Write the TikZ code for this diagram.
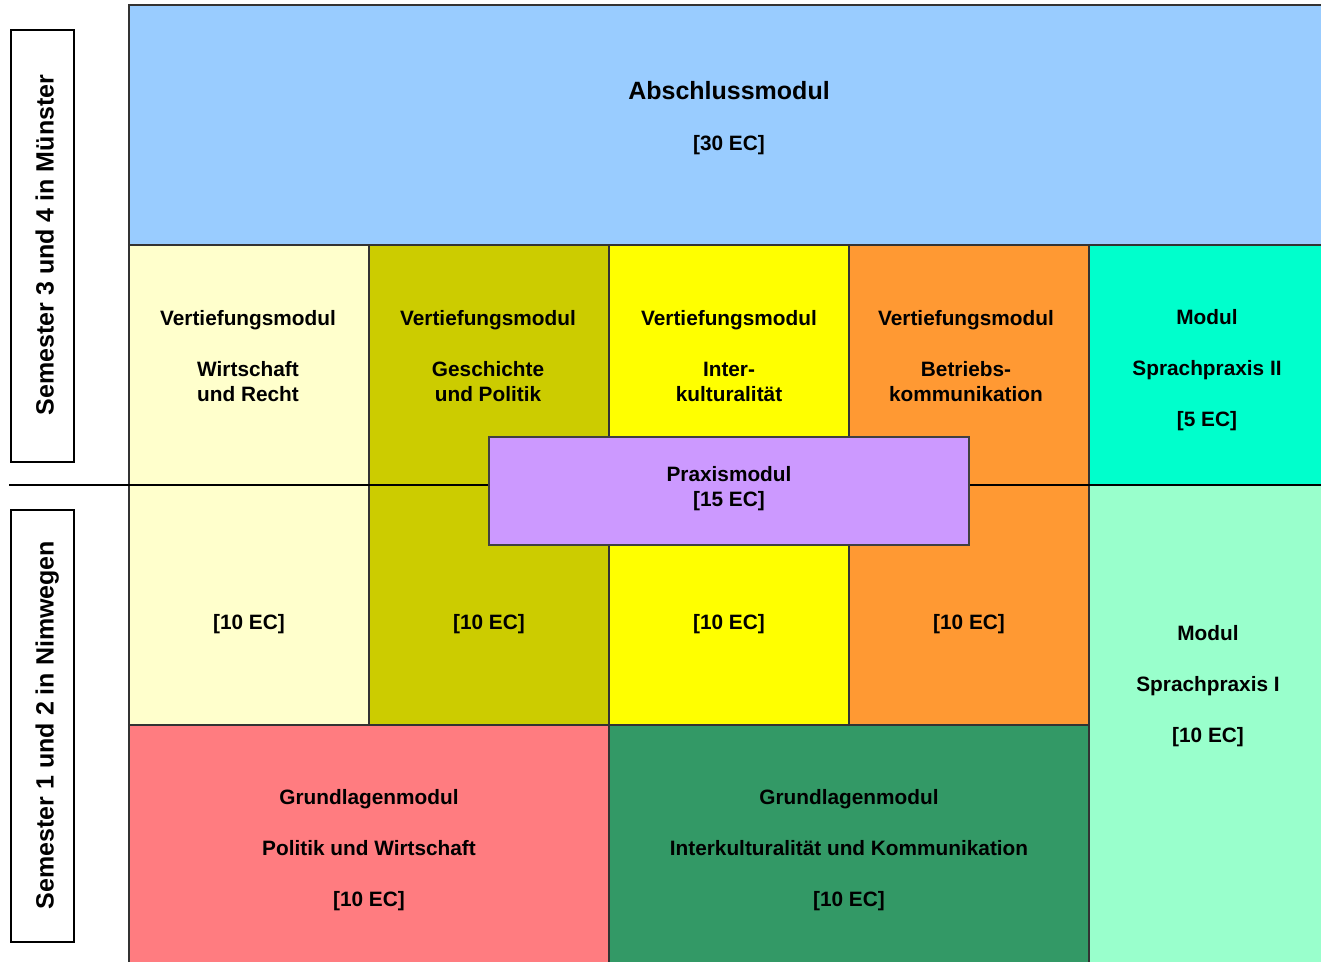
\documentclass[tikz,border=0pt]{standalone}
\usepackage{fontspec}
\setmainfont{Liberation Sans}
\definecolor{cBlue}{HTML}{99CCFF}
\definecolor{cPale}{HTML}{FFFFCC}
\definecolor{cOlive}{HTML}{CCCC00}
\definecolor{cYellow}{HTML}{FFFF00}
\definecolor{cOrange}{HTML}{FF9933}
\definecolor{cTeal}{HTML}{00FFCC}
\definecolor{cMint}{HTML}{99FFCC}
\definecolor{cRed}{HTML}{FF7C80}
\definecolor{cGreen}{HTML}{339966}
\definecolor{cPurple}{HTML}{CC99FF}
\begin{document}
\begin{tikzpicture}[x=1pt,y=-1pt,
  cell/.style={draw=black!80, line width=1.2pt, rectangle, inner sep=0pt, outer sep=0pt, anchor=north west},
  txt/.style={anchor=base, align=center, inner sep=0pt, font=\fontsize{20.8}{25.5}\selectfont\bfseries},
  bigtxt/.style={txt, font=\fontsize{25}{30}\selectfont\bfseries},
  sidebox/.style={draw=black, line width=1.5pt, rectangle, inner sep=0pt, anchor=north west, minimum width=63pt, minimum height=432pt},
  sidetxt/.style={anchor=base, rotate=90, inner sep=0pt, font=\fontsize{25}{30}\selectfont\bfseries}]
\path[use as bounding box, clip] (0,0) rectangle (1321,961);
\fill[white] (0,0) rectangle (1321,961);
% top
\node[cell, fill=cBlue, minimum width=1202pt, minimum height=240pt] (abs) at (129,5) {};
% row 2
\node[cell, fill=cPale, minimum width=240pt, minimum height=240pt] (c21) at (129,245) {};
\node[cell, fill=cOlive, minimum width=240pt, minimum height=240pt] (c22) at (369,245) {};
\node[cell, fill=cYellow, minimum width=240pt, minimum height=240pt] (c23) at (609,245) {};
\node[cell, fill=cOrange, minimum width=240pt, minimum height=240pt] (c24) at (849,245) {};
\node[cell, fill=cTeal, minimum width=250pt, minimum height=240pt] (c25) at (1089,245) {};
% row 3
\node[cell, fill=cPale, minimum width=240pt, minimum height=240pt] (c31) at (129,485) {};
\node[cell, fill=cOlive, minimum width=240pt, minimum height=240pt] (c32) at (369,485) {};
\node[cell, fill=cYellow, minimum width=240pt, minimum height=240pt] (c33) at (609,485) {};
\node[cell, fill=cOrange, minimum width=240pt, minimum height=240pt] (c34) at (849,485) {};
\node[cell, fill=cMint, minimum width=250pt, minimum height=490pt] (c35) at (1089,485) {};
% row 4
\node[cell, fill=cRed, minimum width=480pt, minimum height=250pt] (c41) at (129,725) {};
\node[cell, fill=cGreen, minimum width=480pt, minimum height=250pt] (c42) at (609,725) {};
% divider
\coordinate (divL) at (9,485);
\coordinate (divR) at (1330,485);
\draw[line width=1.5pt, black] (divL) -- (divR);
% Praxis
\node[cell, fill=cPurple, draw=black!75, minimum width=480pt, minimum height=108pt] (prax) at (489,437) {};
% side labels
\node[sidebox] (s34) at (10,29) {};
\node[sidebox] (s12) at (10,509) {};
\node[sidetxt] (s34t) at (53.5,245) {Semester 3 und 4 in Münster};
\node[sidetxt] (s12t) at (53.5,725) {Semester 1 und 2 in Nimwegen};
% texts (anchor base = baseline of last line)
\node[bigtxt] (absA) at (729,99) {Abschlussmodul};
\node[txt] (absB) at (729,150.5) {[30 EC]};
\node[txt] (t21) at (248,401.5) {Vertiefungsmodul\\[25.5pt]Wirtschaft\\und Recht};
\node[txt] (t22) at (488,401.5) {Vertiefungsmodul\\[25.5pt]Geschichte\\und Politik};
\node[txt] (t23) at (729,401.5) {Vertiefungsmodul\\[25.5pt]Inter-\\kulturalität};
\node[txt] (t24) at (966,401.5) {Vertiefungsmodul\\[25.5pt]Betriebs-\\kommunikation};
\node[txt] (t25) at (1207,426.5) {Modul\\[25.5pt]Sprachpraxis II\\[25.5pt]{[5 EC]}};
\node[txt] (tpr) at (729,506.5) {Praxismodul\\{[15 EC]}};
\node[txt] (t31) at (249,629.5) {[10 EC]};
\node[txt] (t32) at (489,629.5) {[10 EC]};
\node[txt] (t33) at (729,629.5) {[10 EC]};
\node[txt] (t34) at (969,629.5) {[10 EC]};
\node[txt] (t35) at (1208,742.5) {Modul\\[25.5pt]Sprachpraxis I\\[25.5pt]{[10 EC]}};
\node[txt] (t41) at (369,906.5) {Grundlagenmodul\\[25.5pt]Politik und Wirtschaft\\[25.5pt]{[10 EC]}};
\node[txt] (t42) at (849,906.5) {Grundlagenmodul\\[25.5pt]Interkulturalität und Kommunikation\\[25.5pt]{[10 EC]}};
\end{tikzpicture}
\end{document}
